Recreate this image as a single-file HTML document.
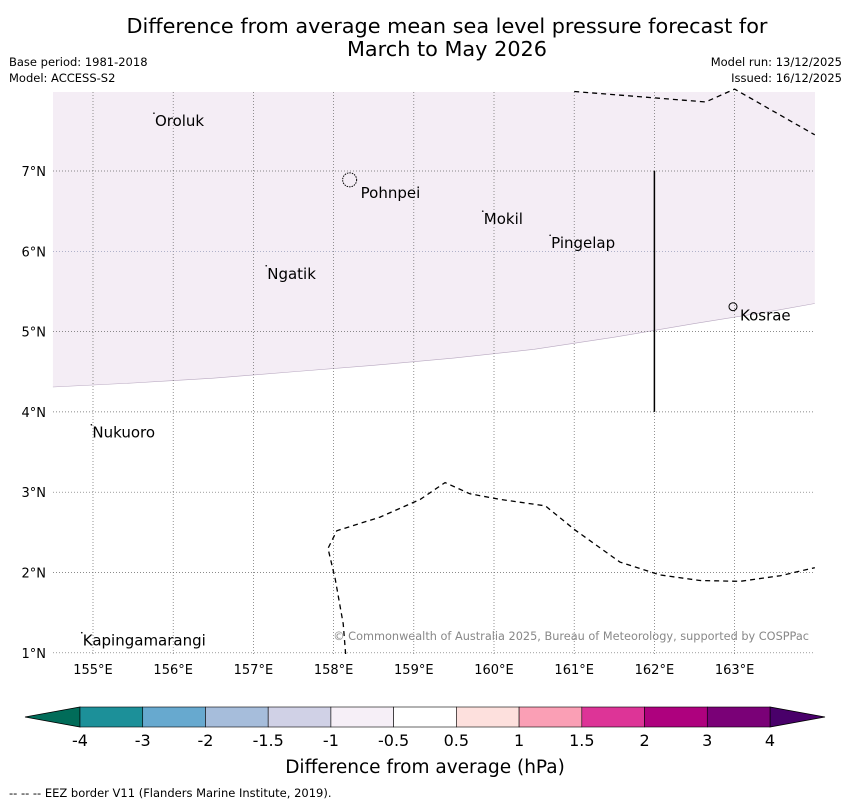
<!DOCTYPE html>
<html><head><meta charset="utf-8"><style>
body{margin:0;background:#fff;font-family:"Liberation Sans","DejaVu Sans",sans-serif;}
svg text{font-family:"DejaVu Sans","Liberation Sans",sans-serif;}
</style></head><body>
<svg id="c" width="850" height="804" xmlns="http://www.w3.org/2000/svg">
<text x="447" y="33" font-size="20.8" text-anchor="middle">Difference from average mean sea level pressure forecast for</text>
<text x="447" y="56" font-size="20.8" text-anchor="middle">March to May 2026</text>
<text x="9" y="66" font-size="11.5">Base period: 1981-2018</text>
<text x="9" y="82" font-size="11.5">Model: ACCESS-S2</text>
<text x="842" y="66" font-size="11.5" text-anchor="end">Model run: 13/12/2025</text>
<text x="842" y="82" font-size="11.5" text-anchor="end">Issued: 16/12/2025</text>
<g id="map"></g>
<g id="cbar"></g>
<text x="425" y="773" font-size="18.5" text-anchor="middle">Difference from average (hPa)</text>
<text x="9" y="797" font-size="11.5">--  --  -- EEZ border V11 (Flanders Marine Institute, 2019).</text>
</svg>
<script>
const lonTicks=[155,156,157,158,159,160,161,162,163];
const latTicks=[1,2,3,4,5,6,7];
const placeNames=["Oroluk","Pohnpei","Mokil","Pingelap","Ngatik","Kosrae","Nukuoro","Kapingamarangi"];
const placeLon=[155.76,158.2,159.86,160.70,157.16,162.98,154.98,154.86];
const placeLat=[7.72,6.89,6.50,6.20,5.82,5.31,3.84,1.25];
const contourLon=[154.5,155.5,156.5,157.5,158.5,159.5,160.5,161.5,162.5,163.5,164];
const contourLat=[4.31,4.36,4.42,4.50,4.58,4.67,4.78,4.93,5.10,5.26,5.35];
const eezTopLon=[161.0,162.64,163.0,164];
const eezTopLat=[7.99,7.86,8.02,7.45];
const eezBotLon=[158.15,158.12,158.02,157.93,158.04,158.58,159.08,159.39,159.70,160.08,160.64,161.01,161.57,162.07,162.57,163.07,163.57,164];
const eezBotLat=[0.92,1.36,1.92,2.30,2.52,2.69,2.91,3.12,2.98,2.91,2.83,2.53,2.13,1.97,1.90,1.89,1.96,2.06];
const cbLabels=["-4","-3","-2","-1.5","-1","-0.5","0.5","1","1.5","2","3","4"];
const cbColors=["#1c9099","#67a9cf","#a6bddb","#d0d1e6","#f6eff7","#ffffff","#fde0dd","#fa9fb5","#dd3497","#ae017e","#7a0177"];
const NS="http://www.w3.org/2000/svg";
const X0=53,X1=815,Y0=92,Y1=654;
const x=lon=>93+(lon-155)*80.2;
const y=lat=>171-(lat-7)*80.3;
function mk(p,t,a){const e=document.createElementNS(NS,t);for(const k in a)e.setAttribute(k,a[k]);p.appendChild(e);return e;}
const map=document.getElementById('map');
const shade=mk(map,'polygon',{fill:'#f4edf5',points:[[X0,Y0],...contourLon.map((l,i)=>[x(l),y(contourLat[i])]),[X1,Y0]].map(p=>p.join(',')).join(' ')});


mk(map,'polyline',{fill:'none',stroke:'#b8a8c0','stroke-width':0.6,points:contourLon.map((l,i)=>x(l)+','+y(contourLat[i])).join(' ')});
lonTicks.forEach(l=>{const g=mk(map,'line',{x1:x(l),x2:x(l),y1:Y0,y2:Y1,stroke:'#666','stroke-width':0.7,'stroke-dasharray':'1,2'});

const t=mk(map,'text',{x:x(l),y:674,'font-size':13,'text-anchor':'middle'});t.textContent=l+'°E';
});
latTicks.forEach(l=>{const g=mk(map,'line',{x1:X0,x2:X1,y1:y(l),y2:y(l),stroke:l==6?'#8890b0':'#666','stroke-width':0.7,'stroke-dasharray':'1,2'});

const t=mk(map,'text',{x:46,y:y(l)+5,'font-size':13,'text-anchor':'end'});t.textContent=l+'°N';
});
const vl=mk(map,'line',{x1:x(162),x2:x(162),y1:y(7),y2:y(4),stroke:'#000','stroke-width':1.5});

[[eezTopLon,eezTopLat],[eezBotLon,eezBotLat]].forEach(([lo,la])=>{const e=mk(map,'polyline',{fill:'none',stroke:'#000','stroke-width':1.3,'stroke-dasharray':'5,4',points:lo.map((l,i)=>Math.min(X1,Math.max(X0,x(l)))+','+Math.min(Y1,Math.max(Y0-4,y(la[i])))).join(' ')});
});
placeNames.forEach((n,i)=>{const px=x(placeLon[i]),py=y(placeLat[i]);
const isl=n=="Pohnpei"?mk(map,'circle',{cx:px,cy:py,r:7,fill:'none',stroke:'#000','stroke-width':1,'stroke-dasharray':'1.5,1'}):n=="Kosrae"?mk(map,'circle',{cx:px,cy:py,r:4,fill:'none',stroke:'#000','stroke-width':1}):mk(map,'circle',{cx:px,cy:py,r:0.8,fill:'#000'});

const off=n=="Pohnpei"?[11,18]:n=="Kosrae"?[7,14]:[1,13];
const t=mk(map,'text',{x:px+off[0],y:py+off[1],'font-size':15});t.textContent=n;
});
const cp=mk(map,'text',{x:809,y:640,'font-size':11.3,fill:'#888','text-anchor':'end'});cp.textContent='© Commonwealth of Australia 2025, Bureau of Meteorology, supported by COSPPac';

const cb=document.getElementById('cbar');
const L=80,W=690/cbColors.length,T=707,H=20;
const lt=mk(cb,'polygon',{points:`${L},${T} ${L},${T+H} 25,${T+H/2}`,fill:'#016c59',stroke:'#000','stroke-width':0.8});

const rt=mk(cb,'polygon',{points:`${L+690},${T} ${L+690},${T+H} 825,${T+H/2}`,fill:'#49006a',stroke:'#000','stroke-width':0.8});

cbColors.forEach((c,i)=>{const r=mk(cb,'rect',{x:L+i*W,y:T,width:W,height:H,fill:c,stroke:'#000','stroke-width':0.6});
});
cbLabels.forEach((s,i)=>{const t=mk(cb,'text',{x:L+i*W,y:746,'font-size':16,'text-anchor':'middle'});t.textContent=s;
});
</script>
</body></html>
